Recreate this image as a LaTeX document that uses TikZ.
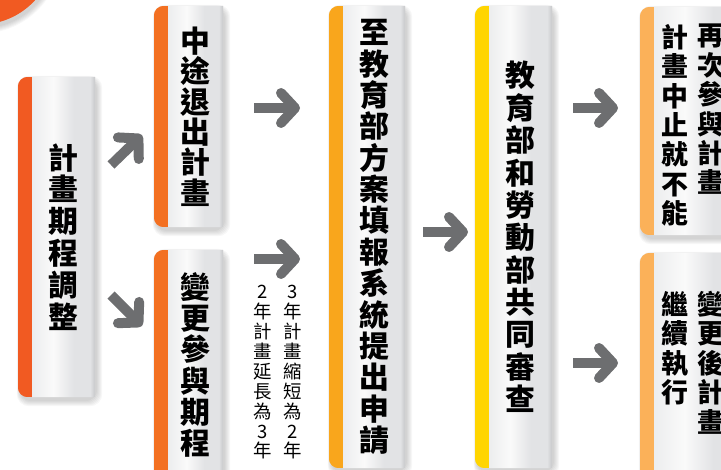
\documentclass[tikz,border=0pt]{standalone}
\usepackage{fontspec}
\usetikzlibrary{arrows.meta,calc,backgrounds}
\newfontfamily\cjk{Noto Sans CJK TC}

\definecolor{stripred}{HTML}{F15A22}
\definecolor{striporange}{HTML}{F37021}
\definecolor{stripamber}{HTML}{F9A61C}
\definecolor{stripyellow}{HTML}{FFD500}
\definecolor{striplight}{HTML}{FBB159}
\definecolor{arrowgray}{HTML}{6D6E70}
\definecolor{bodyL}{HTML}{ECEDEE}
\definecolor{bodyW}{HTML}{FAFAFA}
\definecolor{bodyR}{HTML}{E2E3E5}
\definecolor{bodyE}{HTML}{C6C7C9}

\pgfdeclarehorizontalshading{boxbody}{100bp}{color(0bp)=(bodyL); color(25bp)=(bodyL);
  color(42bp)=(bodyW); color(58bp)=(bodyR); color(71bp)=(bodyR); color(75bp)=(bodyE);
  color(100bp)=(bodyE)}

\tikzset{
  planbox/.style={inner sep=0pt, align=center, font=\cjk\bfseries\fontsize{30}{32}\selectfont},
  colnote/.style={inner sep=0pt, align=center, anchor=north, font=\cjk\bfseries\fontsize{27}{29.5}\selectfont},
  smallnote/.style={inner sep=0pt, align=center, anchor=north, font=\cjk\fontsize{18.5}{20}\selectfont},
  bigarrow/.style={draw=arrowgray, line width=10bp, -{Straight Barb[length=14bp, width=30bp, round]}}
}

% box behind a body node: shadow, shaded body, coloured strip on the left
\newcommand{\boxback}[2]{%
  \begin{scope}[on background layer]
    \foreach \s in {1,...,6}
      \fill[black, opacity=0.03, rounded corners=12bp]
        ($(#1.north west)+(-12-0.5*\s,2-0.5*\s)$) rectangle ($(#1.south east)+(1+\s,3+\s)$);
    \begin{scope}
      \clip[rounded corners=10bp] ($(#1.north west)+(-14,0)$) rectangle ($(#1.south east)+(14,0)$);
      \shade[shading=boxbody] (#1.north west) rectangle (#1.south east);
      \fill[#2] ($(#1.north west)+(-14,0)$) rectangle (#1.south west);
    \end{scope}
  \end{scope}}

\begin{document}
\begin{tikzpicture}[x=1bp,y=-1bp]
\useasboundingbox (0,0) rectangle (721,470);

% corner disc
\begin{scope}[on background layer]
\foreach \s in {1,...,6}
  \fill[black, opacity=0.03] (-19,-47) circle[radius=74.5+\s];
\fill[stripred] (-20,-50) circle[radius=74.5];
\end{scope}

% boxes
\node[planbox, minimum width=63bp, minimum height=320bp] (adjust) at (63.5,237) {計\\畫\\期\\程\\調\\整};
\node[planbox, minimum width=55bp, minimum height=221bp, font=\cjk\bfseries\fontsize{30}{30.6}\selectfont] (quit) at (195.5,116.5) {中\\途\\退\\出\\計\\畫};
\node[planbox, minimum width=55bp, minimum height=230bp, font=\cjk\bfseries\fontsize{30}{31.4}\selectfont] (change) at (195.5,365) {變\\更\\參\\與\\期\\程};
\node[planbox, minimum width=62bp, minimum height=462bp, font=\cjk\bfseries\fontsize{30}{31.5}\selectfont] (apply) at (374,237) {至\\教\\育\\部\\方\\案\\填\\報\\系\\統\\提\\出\\申\\請};
\node[planbox, minimum width=63bp, minimum height=462bp, font=\cjk\bfseries\fontsize{30}{32.5}\selectfont] (review) at (520.5,237) {教\\育\\部\\和\\勞\\動\\部\\共\\同\\審\\查};
\node[planbox, minimum width=90bp, minimum height=228bp] (stop) at (699,121) {};
\node[planbox, minimum width=90bp, minimum height=227bp] (keep) at (699,366.5) {};

\boxback{adjust}{stripred}
\boxback{quit}{striporange}
\boxback{change}{striporange}
\boxback{apply}{stripamber}
\boxback{review}{stripyellow}
\boxback{stop}{striplight}
\boxback{keep}{striplight}

% two-column texts
\node[colnote] (stopR) at (711,24) {再\\次\\參\\與\\計\\畫};
\node[colnote] (stopL) at (675,24) {計\\畫\\中\\止\\就\\不\\能};
\node[colnote] (keepR) at (711,291) {變\\更\\後\\計\\畫};
\node[colnote] (keepL) at (675,291) {繼\\續\\執\\行};

\node[smallnote] (shorter) at (293,285) {3\\年\\計\\畫\\縮\\短\\為\\2\\年};
\node[smallnote] (longer) at (263,285) {2\\年\\計\\畫\\延\\長\\為\\3\\年};

% arrows
\coordinate (a1) at (111,165);  \coordinate (b1) at (142,135);
\coordinate (a2) at (111,295);  \coordinate (b2) at (142,326);
\coordinate (a3) at (254,108);  \coordinate (b3) at (300,108);
\coordinate (a4) at (254,259);  \coordinate (b4) at (300,259);
\coordinate (a5) at (423,232);  \coordinate (b5) at (468,232);
\coordinate (a6) at (573,108);  \coordinate (b6) at (618,108);
\coordinate (a7) at (573,363);  \coordinate (b7) at (618,363);
\foreach \i in {1,...,7}
  \draw[bigarrow] (a\i) -- (b\i);
\end{tikzpicture}
\end{document}
